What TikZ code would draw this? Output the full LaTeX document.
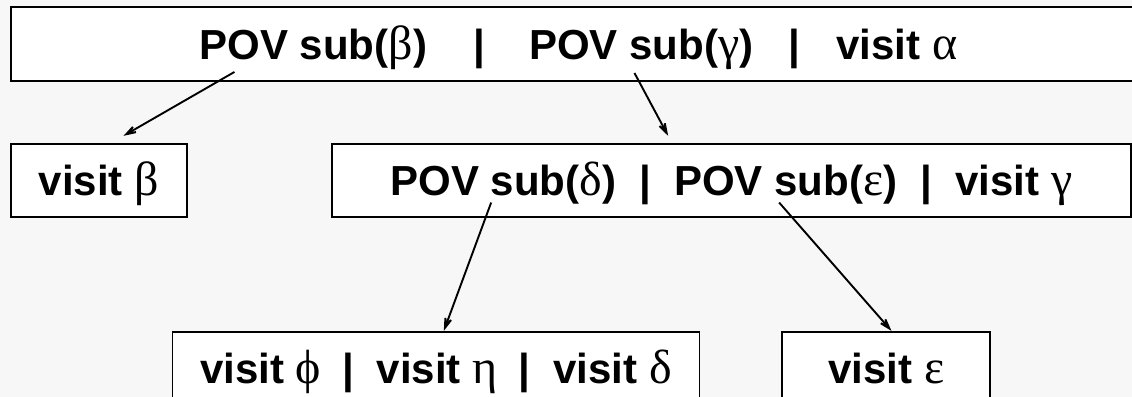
\documentclass[tikz,border=0pt]{standalone}
\usepackage{fontspec}
\setmainfont{Liberation Sans}
\newfontfamily\greekfont{Liberation Serif}
\usetikzlibrary{arrows.meta, positioning}
\definecolor{paper}{HTML}{F7F7F7}
\newcommand{\gr}[1]{{\greekfont\mdseries\fontsize{24}{25}\selectfont #1}}
\tikzstyle{block} = [rectangle, 
			draw, 
			fill = white, 
			line width = 0.85pt, 
			text centered, 
			inner sep = 0pt, 
			text height = 15pt, 
			text depth = 0pt, 
			minimum height = 36.8pt, 
			font = \fontsize{21}{25}\selectfont\bfseries]
\tikzstyle{call} = [-{Stealth[length=11pt, width=7pt, inset=6.5pt]}, 
			line width = 0.95pt]

\begin{document}
\begin{tikzpicture}[x = 0.5pt, y = -0.5pt]
	\useasboundingbox (0,0) rectangle (1132,397);
	\clip (0,0) rectangle (1132,397);
	\fill [paper] (0,0) rectangle (1132,397);
	\node [block, minimum width = 567.5pt] (alpha) at (578.5,44) {POV sub(\gr{β})\hspace{1.1em}|\hspace{1.05em}POV sub(\gr{γ})\hspace{0.85em}|\hspace{0.85em}visit \gr{α}};
	\node [block, minimum width = 88pt, below=30.6pt of alpha.south west, anchor=north west] (beta) {visit \gr{β}};
	\node [block, minimum width = 399.75pt, right=71.5pt of beta] (gamma) {POV sub(\gr{δ})\hspace{0.55em}|\hspace{0.55em}POV sub(\gr{ε})\hspace{0.55em}|\hspace{0.55em}visit \gr{γ}};
	\node [block, minimum width = 263.6pt, below left=56.35pt and 79.65pt of gamma.south west, anchor=north west] (delta) {visit \gr{ϕ}\hspace{0.5em}|\hspace{0.55em}visit \gr{η}\hspace{0.5em}|\hspace{0.55em}visit \gr{δ}};
	\node [block, minimum width = 104pt, right=40.5pt of delta] (epsilon) {visit \gr{ε}};
	\draw [call] ([xshift=112.15pt, yshift=4.85pt]alpha.south west) -- ([xshift=56.65pt, yshift=3.5pt]beta.north west);
	\draw [call] ([xshift=312.15pt, yshift=4.35pt]alpha.south west) -- ([xshift=168.65pt, yshift=3.5pt]gamma.north west);
	\draw [call] ([xshift=80.15pt, yshift=7.8pt]gamma.south west) -- ([xshift=136.15pt]delta.north west);
	\draw [call] ([xshift=224.15pt, yshift=7.8pt]gamma.south west) -- ([xshift=55pt]epsilon.north west);
\end{tikzpicture}
\end{document}
